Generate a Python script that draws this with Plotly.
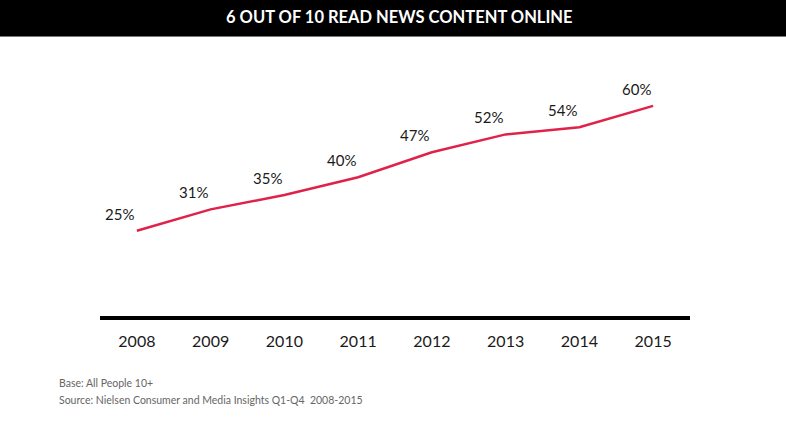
import plotly.graph_objs as go

# data
years = [2008, 2009, 2010, 2011, 2012, 2013, 2014, 2015]
share_online = [25, 31, 35, 40, 47, 52, 54, 60]
value_labels = ['25%', '31%', '35%', '40%', '47%', '52%', '54%', '60%']

title_text = '6 OUT OF 10 READ NEWS CONTENT ONLINE'
footnote_1 = 'Base: All People 10+'
footnote_2 = 'Source: Nielsen Consumer and Media Insights Q1-Q4  2008-2015'

# geometry of the plot area in pixels (786 x 438 page)
W, H = 786, 438
L, R, T, B = 100, 96, 88, 118
pw = W - L - R
ph = H - T - B

fig = go.Figure()
fig.add_trace(go.Scatter(x=years, y=share_online, mode='lines',
                         line=dict(color='#e0224b', width=2.5),
                         hoverinfo='skip', showlegend=False))

# percentage labels, up and left of each point
for yr, v, lab in zip(years, share_online, value_labels):
    fig.add_annotation(x=yr, y=v, text=lab, showarrow=False,
                       xshift=-17, yshift=17,
                       font=dict(family='Lato', size=15, color='#1a1a1a'))

# black title bar
fig.add_shape(type='rect', xref='paper', yref='paper',
              x0=-L / pw, x1=(W - L) / pw,
              y0=1 + (T - 36) / ph, y1=1 + T / ph,
              fillcolor='black', line=dict(width=0), layer='above')
fig.add_shape(type='line', xref='paper', yref='paper',
              x0=-L / pw, x1=(W - L) / pw,
              y0=1 + (T - 36.5) / ph, y1=1 + (T - 36.5) / ph,
              line=dict(color='#777777', width=1))
fig.add_annotation(xref='paper', yref='paper',
                   x=(399 - L) / pw, y=1 + (T - 17) / ph,
                   text='<b>' + title_text + '</b>', showarrow=False,
                   xanchor='center', yanchor='middle',
                   font=dict(family='Lato', size=16.5, color='white'))

# thick baseline
fig.add_shape(type='line', xref='paper', yref='y', x0=0, x1=1, y0=0, y1=0,
              line=dict(color='black', width=8))

# footnotes
for txt, py in [(footnote_1, 383), (footnote_2, 400)]:
    fig.add_annotation(xref='paper', yref='paper',
                       x=(57 - L) / pw, y=(H - B - py) / ph,
                       text=txt, showarrow=False,
                       xanchor='left', yanchor='middle',
                       font=dict(family='Lato', size=10.5, color='#666666'))

fig.update_xaxes(range=[2007.5, 2015.5], tickvals=years,
                 ticktext=[str(y) for y in years],
                 showgrid=False, zeroline=False, showline=False,
                 ticks='outside', ticklen=7, tickcolor='white',
                 tickfont=dict(family='Lato', size=16, color='#1a1a1a'))
fig.update_yaxes(range=[0, 65], visible=False)

fig.update_layout(width=W, height=H,
                  margin=dict(l=L, r=R, t=T, b=B),
                  paper_bgcolor='white', plot_bgcolor='white',
                  showlegend=False)

fig.write_html('out.html', config={'displayModeBar': False},
               post_script="document.body.style.margin='0';")
